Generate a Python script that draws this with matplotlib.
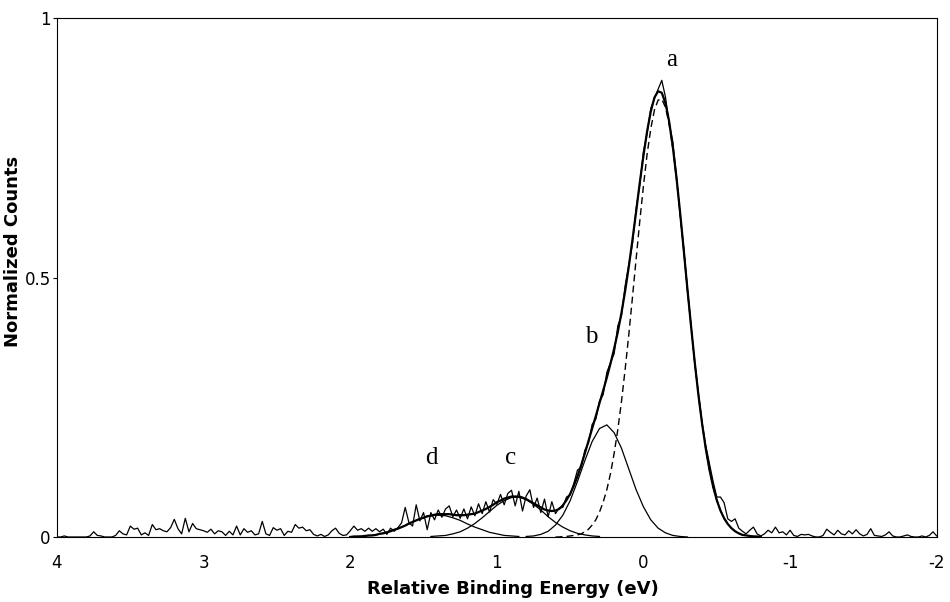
import numpy as np
import matplotlib
matplotlib.use("Agg")
import matplotlib.pyplot as plt

# all counts below in units of 0.001 (normalized counts)

# measured spectrum, 4.0 eV down to -2.0 eV, 0.025 eV step
spec_start, spec_stop = 4.0, -2.0
spectrum = [
    0, 0, 2, 0, 0, 0, 0, 0,
    0, 2, 10, 3, 2, 0, 0, 0,
    3, 12, 6, 4, 21, 15, 17, 4,
    8, 3, 24, 14, 16, 12, 10, 18,
    34, 16, 6, 36, 10, 26, 16, 14,
    12, 9, 15, 6, 12, 10, 3, 11,
    4, 21, 4, 16, 9, 12, 4, 6,
    30, 6, 3, 18, 13, 16, 3, 11,
    9, 24, 17, 19, 12, 14, 5, 2,
    5, 1, 4, 12, 17, 7, 3, 4,
    12, 21, 13, 16, 11, 17, 11, 16,
    10, 15, 5, 17, 11, 18, 27, 57,
    28, 21, 62, 31, 47, 14, 47, 33,
    52, 38, 54, 60, 39, 52, 36, 54,
    35, 58, 41, 64, 45, 68, 48, 72,
    63, 82, 62, 84, 90, 60, 88, 50,
    79, 91, 57, 75, 47, 73, 39, 68,
    45, 56, 57, 77, 81, 103, 129, 134,
    167, 181, 217, 227, 262, 274, 317, 336,
    353, 407, 426, 484, 525, 565, 633, 679,
    743, 778, 826, 845, 863, 880, 848, 797,
    762, 695, 621, 556, 475, 407, 334, 277,
    220, 176, 142, 107, 77, 77, 66, 35,
    30, 35, 17, 11, 6, 13, 19, 6,
    2, 6, 13, 8, 19, 8, 10, 4,
    13, 3, 1, 5, 4, 5, 2, 0,
    0, 3, 15, 9, 4, 13, 6, 4,
    12, 6, 14, 6, 2, 5, 16, 3,
    2, 1, 4, 10, 2, 0, 0, 2,
    4, 1, 0, 0, 2, 0, 3, 10,
    2,
]

# total fit envelope, 2.0 eV down to -0.8 eV, 0.025 eV step
env_start, env_stop = 2.0, -0.8
envelope = [
    0, 1, 1, 1, 2, 3, 3, 4,
    6, 7, 9, 11, 14, 16, 19, 22,
    26, 29, 32, 35, 37, 40, 41, 43,
    44, 44, 44, 44, 43, 42, 42, 42,
    43, 44, 45, 48, 51, 54, 58, 62,
    67, 70, 74, 76, 78, 78, 78, 76,
    73, 69, 65, 61, 57, 53, 51, 50,
    51, 54, 61, 71, 83, 99, 117, 138,
    161, 185, 209, 233, 258, 282, 307, 334,
    363, 395, 432, 474, 521, 573, 627, 683,
    735, 782, 820, 847, 859, 856, 836, 801,
    752, 693, 625, 552, 477, 405, 336, 273,
    218, 170, 130, 97, 71, 51, 36, 25,
    17, 11, 7, 4, 3, 2, 1, 1,
    0,
]

# fit components a (0.025 eV step), b, c, d (0.05 eV step)
peak_a_start, peak_a_stop = 0.6, -0.8
peak_a = [0, 0, 1, 1, 2, 3, 4, 6, 10, 15, 23, 33, 48, 67, 91, 122,
          161, 207, 261, 323, 390, 462, 536, 609, 677, 738, 787, 823,
          842, 844, 828, 796, 749, 690, 623, 551, 477, 404, 336, 273,
          218, 170, 130, 97, 71, 51, 36, 25, 17, 11, 7, 4, 3, 2, 1, 1, 0]
peak_b_start, peak_b_stop = 0.8, -0.3
peak_b = [1, 2, 5, 11, 23, 42, 70, 107, 147, 184, 209, 216, 201, 171,
          131, 91, 58, 33, 17, 8, 3, 1, 0]
peak_c_start, peak_c_stop = 1.45, 0.3
peak_c = [1, 2, 3, 6, 10, 17, 26, 37, 49, 61, 70, 76, 77, 72, 63, 52,
          39, 28, 19, 12, 7, 4, 2, 1]
peak_d_start, peak_d_stop = 1.95, 0.85
peak_d = [1, 2, 3, 6, 9, 14, 19, 25, 32, 37, 41, 42, 41, 37, 32, 25,
          19, 14, 9, 6, 3, 2, 1]

peak_labels = ["a", "b", "c", "d"]
label_x = [-0.19, 0.355, 0.908, 1.447]
label_y = [0.92, 0.385, 0.152, 0.152]


def axis_of(start, stop, vals):
    return np.linspace(start, stop, len(vals)), np.array(vals) / 1000.0


fig = plt.figure(figsize=(9.5, 6.02), dpi=100)
ax = fig.add_axes([0.06, 0.108, 0.926, 0.862])

ax.plot(*axis_of(spec_start, spec_stop, spectrum), color="black", lw=0.9)
ax.plot(*axis_of(env_start, env_stop, envelope), color="black", lw=1.6)
ax.plot(*axis_of(peak_a_start, peak_a_stop, peak_a), color="black", lw=1.0,
        ls=(0, (5, 3)))
for st, sp, vals in [(peak_b_start, peak_b_stop, peak_b),
                     (peak_c_start, peak_c_stop, peak_c),
                     (peak_d_start, peak_d_stop, peak_d)]:
    ax.plot(*axis_of(st, sp, vals), color="black", lw=0.9)

for lab, xx, yy in zip(peak_labels, label_x, label_y):
    ax.text(xx, yy, lab, family="Liberation Serif", fontsize=18,
            ha="center", va="center")

ax.set_xlim(4, -2)
ax.set_ylim(0, 1)
ax.set_xticks([4, 3, 2, 1, 0, -1, -2])
ax.set_xticklabels(["4", "3", "2", "1", "0", "-1", "-2"])
ax.set_yticks([0, 0.5, 1])
ax.set_yticklabels(["0", "0.5", "1"])
ax.tick_params(axis="y", labelsize=12, length=3, pad=1.5)
ax.tick_params(axis="x", labelsize=12, length=0, pad=12)
ax.set_xlabel("Relative Binding Energy (eV)", fontsize=13, fontweight="bold")
ax.set_ylabel("Normalized Counts", fontsize=13, fontweight="bold")
ax.yaxis.set_label_coords(-0.0398, 0.551)
ax.xaxis.set_label_coords(0.518, -0.082)

fig.savefig("out.png")
